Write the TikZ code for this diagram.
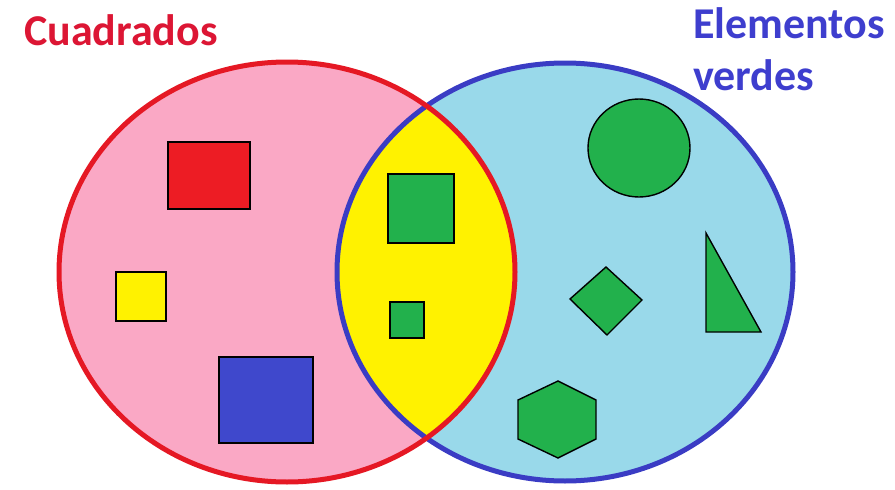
\documentclass[tikz,border=0pt]{standalone}
\usepackage{fontspec}
\setmainfont{Carlito}
\definecolor{vnpink}{RGB}{250,168,197}
\definecolor{vnsky}{RGB}{153,217,234}
\definecolor{vnyellow}{RGB}{255,242,0}
\definecolor{vnred}{RGB}{229,24,36}
\definecolor{vnblue}{RGB}{58,60,196}
\definecolor{vngreen}{RGB}{34,177,76}
\definecolor{vnsqred}{RGB}{237,28,36}
\definecolor{vnsqblue}{RGB}{63,72,204}
\definecolor{vntxtred}{RGB}{220,22,52}
\definecolor{vntxtblue}{RGB}{62,62,206}
\tikzset{
  setline/.style={line width=5pt},
  piece/.style={draw=black, line width=1.4pt, line join=miter},
  settitle/.style={font=\bfseries\fontsize{44}{52}\selectfont, inner sep=0pt, align=left}
}

\begin{document}
\begin{tikzpicture}[x=1pt, y=-1pt]
  \useasboundingbox (0,0) rectangle (895,490);

  % Set fills
  \fill[vnpink] (287,272) ellipse [x radius=228pt, y radius=210pt];
  \fill[vnsky] (565,272) ellipse [x radius=228pt, y radius=209pt];
  \begin{scope}
    \clip (287,272) ellipse [x radius=228pt, y radius=210pt];
    \fill[vnyellow] (565,272) ellipse [x radius=228pt, y radius=209pt];
  \end{scope}

  % Set outlines
  \draw[setline, vnblue] (565,272) ellipse [x radius=228pt, y radius=209pt];
  \draw[setline, vnred] (287,272) ellipse [x radius=228pt, y radius=210pt];

  % Titles
  \node[settitle, text=vntxtred, anchor=base west] (cuadrados) at (24,45) {Cuadrados};
  \node[settitle, text=vntxtblue, anchor=base west] (elementos) at (693,38) {Elementos};
  \node[settitle, text=vntxtblue, anchor=base west] (verdes) at (693,90) {verdes};

  % Squares only
  \filldraw[piece, fill=vnsqred] (168,142) rectangle (250,209);
  \filldraw[piece, fill=vnyellow] (116,272) rectangle (166,321);
  \filldraw[piece, fill=vnsqblue] (219,357) rectangle (313,443);

  % Green squares (both sets)
  \filldraw[piece, fill=vngreen] (388,174) rectangle (454,243);
  \filldraw[piece, fill=vngreen] (390,302) rectangle (424,338);

  % Green only
  \filldraw[piece, fill=vngreen] (639,148) ellipse [x radius=51pt, y radius=49pt];
  \filldraw[piece, fill=vngreen] (570,299) -- (606,267) -- (642,300) -- (607,335) -- cycle;
  \filldraw[piece, fill=vngreen] (706,233) -- (706,332) -- (761,332) -- cycle;
  \filldraw[piece, fill=vngreen] (558,381) -- (596,400) -- (596,439) -- (558,458) -- (518,439) -- (518,400) -- cycle;
\end{tikzpicture}
\end{document}
